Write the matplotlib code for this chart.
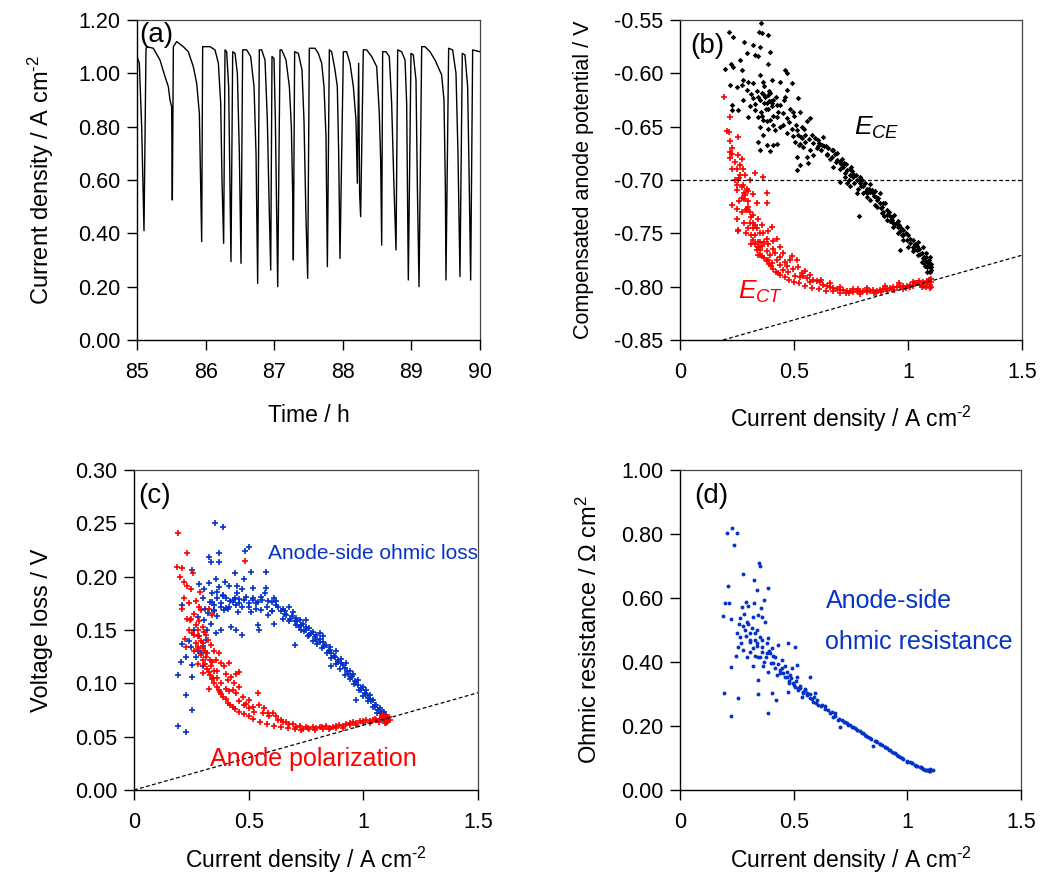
import matplotlib
matplotlib.use("Agg")
import matplotlib.pyplot as plt
from matplotlib.ticker import FormatStrFormatter

plt.rcParams['font.family'] = ['Liberation Sans', 'DejaVu Sans']
plt.rcParams['mathtext.fontset'] = 'custom'
plt.rcParams['mathtext.rm'] = 'Liberation Sans'
plt.rcParams['mathtext.it'] = 'Liberation Sans:italic'
plt.rcParams['mathtext.default'] = 'regular'

# ---------------- panel (a): current density vs time ----------------
time_h = [85.00, 85.034, 85.068, 85.102, 85.131, 85.141, 85.238, 85.335, 85.408, 85.457, 85.481, 85.505,
          85.515, 85.530, 85.578, 85.675, 85.748, 85.821, 85.870, 85.909, 85.943, 85.957, 86.064, 86.137,
          86.186, 86.220, 86.239, 86.263, 86.283, 86.307, 86.336, 86.356, 86.370, 86.395, 86.429, 86.463,
          86.492, 86.516, 86.540, 86.599, 86.657, 86.706, 86.735, 86.759, 86.783, 86.817, 86.866, 86.900,
          86.929, 86.949, 86.968, 86.997, 87.017, 87.051, 87.085, 87.109, 87.172, 87.221, 87.250, 87.269,
          87.279, 87.298, 87.352, 87.405, 87.434, 87.464, 87.488, 87.512, 87.595, 87.643, 87.692, 87.726,
          87.755, 87.775, 87.804, 87.838, 87.886, 87.920, 87.940, 87.959, 88.008, 88.056, 88.105, 88.154,
          88.192, 88.212, 88.231, 88.245, 88.260, 88.299, 88.348, 88.421, 88.494, 88.532, 88.552, 88.567,
          88.581, 88.630, 88.678, 88.712, 88.746, 88.776, 88.800, 88.858, 88.907, 88.931, 88.955, 88.994,
          89.028, 89.067, 89.087, 89.111, 89.150, 89.198, 89.271, 89.344, 89.407, 89.441, 89.475, 89.495,
          89.504, 89.543, 89.601, 89.650, 89.679, 89.708, 89.742, 89.781, 89.820, 89.844, 89.864, 89.893,
          90.000]
current_t = [1.063, 1.038, 0.80, 0.41, 1.09, 1.10, 1.094, 1.05, 0.988, 0.95, 0.90, 0.875,
             0.525, 1.10, 1.119, 1.10, 1.081, 1.025, 0.963, 0.85, 0.369, 1.10, 1.10, 1.088,
             1.038, 0.888, 0.60, 0.3625, 1.088, 1.081, 0.95, 0.575, 0.294, 1.081, 1.075, 1.0,
             0.70, 0.2875, 1.088, 1.088, 1.063, 0.95, 0.70, 0.2125, 1.088, 1.088, 1.05, 0.825,
             0.475, 0.2625, 1.063, 1.056, 0.825, 0.20, 1.088, 1.088, 1.05, 0.95, 0.80, 0.55,
             0.30, 1.081, 1.075, 1.013, 0.825, 0.45, 0.231, 1.094, 1.094, 1.075, 1.038, 0.95,
             0.763, 0.275, 1.088, 1.081, 1.013, 0.95, 0.70, 0.306, 1.081, 1.081, 1.038, 0.95,
             0.825, 0.588, 1.038, 0.55, 0.4625, 1.088, 1.088, 1.063, 1.025, 0.85, 0.675, 0.356,
             1.081, 1.081, 1.063, 0.888, 0.575, 0.3375, 1.088, 1.081, 1.05, 0.888, 0.225, 1.075,
             1.069, 0.975, 0.575, 0.20, 1.10, 1.10, 1.081, 1.05, 1.013, 0.994, 0.90, 0.575,
             0.225, 1.094, 1.088, 1.0, 0.70, 0.2375, 1.075, 1.069, 0.95, 0.575, 0.225, 1.088,
             1.081]

# ---------------- panel (b): compensated anode potentials ----------------
ece_j = [0.354, 0.348, 0.358, 0.387, 0.216, 0.234, 0.282, 0.322, 0.351, 0.292, 0.329, 0.344, 0.395, 0.387,
         0.222, 0.263, 0.234, 0.197, 0.270, 0.461, 0.471, 0.351, 0.278, 0.300, 0.322, 0.365, 0.402, 0.439,
         0.490, 0.468, 0.519, 0.461, 0.219, 0.249, 0.270, 0.292, 0.336, 0.365, 0.387, 0.409, 0.380, 0.402,
         0.424, 0.351, 0.322, 0.278, 0.307, 0.329, 0.226, 0.256, 0.226, 0.300, 0.344, 0.365, 0.395, 0.424,
         0.453, 0.482, 0.497, 0.526, 0.570, 0.556, 0.534, 0.512, 0.439, 0.417, 0.387, 0.351, 0.365, 0.468,
         0.497, 0.519, 0.548, 0.577, 0.592, 0.607, 0.621, 0.504, 0.526, 0.541, 0.570, 0.599, 0.344, 0.380,
         0.409, 0.424, 0.351, 0.395, 0.512, 0.556, 0.585, 0.643, 0.665, 0.687, 0.702, 0.716, 0.526, 0.563,
         0.512, 0.672, 0.731, 0.746, 0.760, 0.775, 0.789, 0.804, 0.819, 0.833, 0.848, 0.863, 0.877, 0.885,
         0.892, 0.906, 0.928, 0.943, 0.958, 0.965, 0.980, 0.994, 1.009, 1.023, 1.038, 1.053, 1.067, 1.082,
         1.094, 0.965, 0.775, 0.724, 0.753, 0.804, 0.833, 0.855, 0.885, 0.906, 0.921, 0.936, 0.958, 0.980,
         1.001, 1.023, 1.045, 1.060, 1.075, 0.702, 0.731, 0.789, 0.746, 0.819, 0.863, 1.090, 1.100, 1.100,
         1.085, 1.095, 1.070, 1.080, 1.050, 1.030, 1.010, 0.990, 0.970, 0.950, 0.930, 0.910, 0.890, 0.870,
         0.850, 0.830, 0.810, 0.790, 0.770, 0.750, 0.730, 0.710, 0.690, 0.670, 0.650, 0.630, 0.610, 0.372,
         0.390, 0.405, 0.360, 0.378, 0.396, 0.535, 0.548, 0.520,
         0.620, 0.640, 0.660, 0.680, 0.700, 0.720, 0.740, 0.760, 0.780, 0.800, 0.820, 0.840, 0.860, 0.880,
         0.900, 0.920, 0.940, 0.960, 0.980, 1.000, 1.020, 1.040, 1.060, 1.070, 1.080, 1.090, 1.100, 1.085,
         1.095, 1.075, 1.065, 1.045, 1.025, 0.995, 0.975, 0.955, 0.935, 0.915, 0.895, 0.875, 0.855, 0.835,
         0.815, 0.795, 0.765, 0.745, 0.725, 0.705, 0.685, 0.665, 0.645, 0.625, 0.605, 0.585, 0.565, 0.545,
         0.530, 0.510, 0.490, 0.470, 0.450, 0.430, 0.410, 0.400, 0.385, 0.370, 0.355, 0.340, 0.330, 0.310,
         0.370, 0.390, 0.420, 0.440, 0.455, 0.480, 0.500, 0.360, 0.380, 0.410, 0.786]
ece_v = [-0.553, -0.561, -0.562, -0.564, -0.561, -0.566, -0.571, -0.573, -0.575, -0.581, -0.583, -0.584, -0.580,
         -0.591, -0.591, -0.5875, -0.594, -0.596, -0.597, -0.597, -0.600, -0.602, -0.606, -0.608, -0.609, -0.608,
         -0.606, -0.608, -0.609, -0.616, -0.623, -0.622, -0.611, -0.6125, -0.611, -0.616, -0.617, -0.619, -0.620,
         -0.625, -0.628, -0.631, -0.630, -0.625, -0.623, -0.625, -0.631, -0.634, -0.630, -0.634, -0.634, -0.641,
         -0.641, -0.644, -0.644, -0.641, -0.6375, -0.633, -0.636, -0.636, -0.642, -0.645, -0.650, -0.653, -0.650,
         -0.653, -0.652, -0.650, -0.658, -0.656, -0.659, -0.658, -0.658, -0.658, -0.661, -0.6625, -0.667, -0.664,
         -0.666, -0.669, -0.672, -0.670, -0.664, -0.667, -0.667, -0.666, -0.672, -0.673, -0.678, -0.678, -0.677,
         -0.677, -0.678, -0.681, -0.683, -0.6875, -0.686, -0.684, -0.691, -0.6875, -0.691, -0.695, -0.697, -0.700,
         -0.703, -0.706, -0.708, -0.711, -0.7125, -0.719, -0.722, -0.725, -0.730, -0.733, -0.7375, -0.741, -0.744,
         -0.748, -0.752, -0.756, -0.759, -0.7625, -0.766, -0.769, -0.773, -0.777, -0.781, -0.766, -0.7125, -0.697,
         -0.692, -0.7125, -0.719, -0.723, -0.731, -0.7375, -0.734, -0.744, -0.750, -0.756, -0.7625, -0.767, -0.770,
         -0.777, -0.781, -0.702, -0.703, -0.697, -0.706, -0.716, -0.725, -0.775, -0.779, -0.784, -0.782, -0.786,
         -0.778, -0.772, -0.765, -0.760, -0.755, -0.750, -0.745, -0.740, -0.735, -0.728, -0.722, -0.717, -0.715,
         -0.708, -0.703, -0.700, -0.695, -0.688, -0.685, -0.680, -0.675, -0.672, -0.670, -0.668, -0.665, -0.622,
         -0.626, -0.628, -0.618, -0.633, -0.618, -0.661, -0.664, -0.667,
         -0.672, -0.668, -0.680, -0.676, -0.690, -0.684, -0.700, -0.694, -0.708, -0.700, -0.712, -0.709, -0.716,
         -0.726, -0.722, -0.738, -0.733, -0.742, -0.747, -0.752, -0.756, -0.762, -0.768, -0.772, -0.768, -0.778,
         -0.782, -0.786, -0.772, -0.776, -0.763, -0.758, -0.765, -0.744, -0.752, -0.738, -0.740, -0.730, -0.734,
         -0.712, -0.710, -0.704, -0.710, -0.706, -0.703, -0.690, -0.693, -0.685, -0.683, -0.672, -0.676, -0.660,
         -0.668, -0.665, -0.662, -0.652, -0.660, -0.648, -0.652, -0.642, -0.648, -0.636, -0.640, -0.626, -0.633,
         -0.628, -0.636, -0.622, -0.629, -0.619, -0.612, -0.617, -0.622, -0.630, -0.625, -0.646, -0.640, -0.640,
         -0.645, -0.648, -0.734]

ect_j = [0.193, 0.220, 0.205, 0.216, 0.219, 0.226, 0.221, 0.226, 0.219, 0.255, 0.256, 0.270, 0.263, 0.278,
         0.263, 0.256, 0.285, 0.307, 0.329, 0.365, 0.248, 0.278, 0.292, 0.270, 0.226, 0.249, 0.285, 0.300,
         0.322, 0.336, 0.292, 0.307, 0.380, 0.380, 0.249, 0.256, 0.322, 0.344, 0.336, 0.358, 0.322, 0.307,
         0.365, 0.387, 0.402, 0.380, 0.344, 0.358, 0.387, 0.409, 0.424, 0.439, 0.380, 0.351, 0.336, 0.395,
         0.417, 0.453, 0.424, 0.402, 0.387, 0.439, 0.461, 0.482, 0.490, 0.512, 0.453, 0.475, 0.497, 0.519,
         0.534, 0.548, 0.504, 0.526, 0.556, 0.570, 0.585, 0.599, 0.614, 0.628, 0.643, 0.658, 0.672, 0.687,
         0.702, 0.716, 0.731, 0.746, 0.760, 0.775, 0.789, 0.804, 0.819, 0.833, 0.848, 0.863, 0.877, 0.892,
         0.906, 0.921, 0.936, 0.950, 0.965, 0.980, 0.994, 1.009, 1.023, 1.038, 1.053, 1.067, 1.082, 1.095,
         1.100, 0.620, 0.660, 0.700, 0.740, 0.780, 0.820, 0.860, 0.900, 0.940, 0.980, 1.020, 1.060, 1.090,
         1.080, 1.100, 0.570, 0.540, 0.470, 0.440, 0.410, 0.370, 0.350, 0.330, 0.310, 0.300, 0.280, 0.270,
         0.260, 0.250, 0.240,
         0.300, 0.310, 0.320, 0.330, 0.340, 0.350, 0.360, 0.370, 0.380, 0.390, 0.400, 0.410, 0.420, 0.430,
         0.440, 0.460, 0.480, 0.500, 0.520, 0.550, 0.580, 0.610, 0.640, 0.670, 0.700, 0.730, 0.760, 0.790,
         0.820, 0.850, 0.880, 0.910, 0.930, 0.960, 0.990, 1.010, 1.030, 1.050, 1.070, 1.085, 1.100, 1.095,
         0.280, 0.270, 0.290, 0.310, 0.260, 0.280, 0.250, 0.290, 0.330, 0.350, 0.300, 0.320, 0.230, 0.240,
         0.340, 0.256, 0.343]
ect_v = [-0.622, -0.641, -0.654, -0.655, -0.663, -0.670, -0.674, -0.676, -0.679, -0.660, -0.677, -0.680, -0.686,
         -0.690, -0.695, -0.700, -0.695, -0.700, -0.693, -0.697, -0.709, -0.705, -0.708, -0.717, -0.723, -0.727,
         -0.714, -0.720, -0.713, -0.722, -0.727, -0.730, -0.712, -0.722, -0.737, -0.748, -0.733, -0.737, -0.745,
         -0.742, -0.745, -0.740, -0.750, -0.748, -0.744, -0.755, -0.758, -0.762, -0.760, -0.757, -0.755, -0.763,
         -0.767, -0.770, -0.766, -0.770, -0.768, -0.768, -0.775, -0.778, -0.775, -0.780, -0.777, -0.775, -0.771,
         -0.775, -0.784, -0.786, -0.783, -0.782, -0.787, -0.785, -0.790, -0.791, -0.792, -0.789, -0.794, -0.795,
         -0.796, -0.798, -0.799, -0.800, -0.801, -0.802, -0.803, -0.803, -0.804, -0.804, -0.805, -0.804, -0.805,
         -0.804, -0.805, -0.804, -0.803, -0.804, -0.803, -0.802, -0.802, -0.801, -0.800, -0.800, -0.800, -0.799,
         -0.799, -0.798, -0.799, -0.797, -0.798, -0.796, -0.797, -0.798, -0.796, -0.794, -0.797, -0.800, -0.806,
         -0.802, -0.801, -0.806, -0.799, -0.803, -0.802, -0.796, -0.800, -0.794, -0.800, -0.800, -0.796, -0.790,
         -0.781, -0.772, -0.765, -0.758, -0.750, -0.742, -0.735, -0.725, -0.718, -0.707, -0.698, -0.690, -0.683,
         -0.745, -0.752, -0.756, -0.760, -0.763, -0.766, -0.771, -0.773, -0.776, -0.779, -0.781, -0.783, -0.786,
         -0.787, -0.789, -0.791, -0.794, -0.796, -0.797, -0.799, -0.801, -0.802, -0.804, -0.804, -0.806, -0.806,
         -0.802, -0.807, -0.803, -0.806, -0.805, -0.804, -0.802, -0.797, -0.801, -0.800, -0.797, -0.795, -0.799,
         -0.795, -0.793, -0.801, -0.740, -0.730, -0.750, -0.760, -0.720, -0.712, -0.705, -0.728, -0.752, -0.758,
         -0.710, -0.740, -0.690, -0.700, -0.770, -0.747, -0.7625]

# reference (dashed) lines
b_hline_v = -0.70
b_diag_j = [0.189, 1.5]
b_diag_v = [-0.850, -0.7705]

# ---------------- panel (c): voltage losses ----------------
ohm_j = [0.353, 0.389, 0.503, 0.485, 0.372, 0.325, 0.335, 0.372, 0.252, 0.576, 0.510, 0.442, 0.357, 0.481,
         0.398, 0.284, 0.325, 0.415, 0.448, 0.520, 0.576, 0.306, 0.364, 0.386, 0.401, 0.430, 0.459, 0.488,
         0.554, 0.612, 0.620, 0.583, 0.532, 0.503, 0.445, 0.415, 0.379, 0.350, 0.211, 0.350, 0.394, 0.452,
         0.510, 0.554, 0.649, 0.678, 0.692, 0.663, 0.707, 0.722, 0.678, 0.736, 0.751, 0.765, 0.780, 0.794,
         0.809, 0.824, 0.838, 0.853, 0.860, 0.875, 0.889, 0.904, 0.918, 0.933, 0.948, 0.962, 0.977, 0.991,
         1.006, 1.020, 1.035, 1.050, 1.064, 1.079, 1.093, 1.101, 1.086, 0.794, 0.824, 0.853, 0.882, 0.904,
         0.926, 0.940, 0.955, 0.977, 0.999, 1.013, 1.028, 1.042, 1.057, 1.071, 1.086, 1.093, 0.700, 0.969,
         0.860, 0.765, 0.729, 0.707, 0.809, 0.751, 0.211, 0.226, 0.204, 0.255, 0.291, 0.248, 0.194, 0.252,
         0.226, 0.255, 0.194, 0.226, 0.299, 0.277, 0.357, 0.379, 0.335, 0.306, 0.321, 0.423, 0.445, 0.471,
         0.547, 0.539, 0.612, 0.583, 0.284, 0.313, 0.364, 0.340, 0.410, 0.430, 0.470, 0.520, 0.600, 0.650,
         0.63, 0.66, 0.69, 0.71, 0.73, 0.75, 0.77, 0.79, 0.81, 0.83, 0.85, 0.87, 0.89, 0.91, 0.93, 0.95,
         0.97, 0.99, 1.01, 1.03, 1.05, 1.07, 1.08, 1.09, 1.10, 1.095, 1.105, 1.08, 1.06, 1.04, 1.02, 1.00,
         0.98, 0.96, 0.94, 0.92, 0.90, 0.88, 0.86, 0.84, 0.82, 0.80, 0.78, 0.76, 0.74, 0.72, 0.70, 0.68,
         0.66, 0.64, 0.62, 0.60, 0.58, 0.56, 0.54, 0.52, 0.50, 0.48, 0.46, 0.44, 0.42, 0.40, 0.38, 0.36,
         0.35, 0.33, 0.31, 0.30, 0.34, 0.37, 0.39, 0.45, 0.47, 0.53, 0.57, 0.60, 0.28, 0.26, 0.24, 0.27,
         0.30, 0.32]
ohm_v = [0.2506, 0.247, 0.228, 0.224, 0.222, 0.218, 0.214, 0.214, 0.206, 0.204, 0.204, 0.203, 0.198, 0.198,
         0.195, 0.193, 0.194, 0.191, 0.191, 0.189, 0.189, 0.188, 0.186, 0.183, 0.180, 0.178, 0.179, 0.181,
         0.181, 0.180, 0.177, 0.177, 0.175, 0.175, 0.173, 0.172, 0.172, 0.173, 0.173, 0.169, 0.169, 0.167,
         0.167, 0.169, 0.170, 0.172, 0.167, 0.164, 0.161, 0.159, 0.158, 0.156, 0.153, 0.152, 0.148, 0.145,
         0.142, 0.139, 0.136, 0.131, 0.128, 0.125, 0.122, 0.119, 0.114, 0.109, 0.106, 0.102, 0.098, 0.094,
         0.091, 0.086, 0.083, 0.078, 0.075, 0.072, 0.069, 0.066, 0.067, 0.141, 0.144, 0.134, 0.130, 0.123,
         0.119, 0.112, 0.109, 0.103, 0.097, 0.094, 0.089, 0.084, 0.080, 0.077, 0.073, 0.070, 0.136, 0.084,
         0.116, 0.145, 0.150, 0.155, 0.147, 0.159, 0.137, 0.125, 0.120, 0.117, 0.128, 0.134, 0.108, 0.106,
         0.089, 0.075, 0.060, 0.054, 0.116, 0.130, 0.147, 0.150, 0.156, 0.159, 0.166, 0.153, 0.150, 0.145,
         0.150, 0.155, 0.156, 0.164, 0.144, 0.141, 0.163, 0.176, 0.170, 0.176, 0.172, 0.178, 0.168, 0.160,
         0.172, 0.168, 0.163, 0.158, 0.155, 0.150, 0.147, 0.143, 0.139, 0.135, 0.130, 0.126, 0.120, 0.117,
         0.112, 0.107, 0.101, 0.096, 0.090, 0.085, 0.080, 0.075, 0.071, 0.073, 0.069, 0.066, 0.064, 0.068,
         0.072, 0.078, 0.083, 0.088, 0.094, 0.099, 0.104, 0.108, 0.113, 0.118, 0.124, 0.128, 0.133, 0.137,
         0.140, 0.144, 0.149, 0.153, 0.158, 0.160, 0.165, 0.168, 0.173, 0.176, 0.172, 0.178, 0.176, 0.180,
         0.172, 0.178, 0.175, 0.180, 0.177, 0.171, 0.175, 0.180, 0.168, 0.176, 0.170, 0.180, 0.185, 0.190,
         0.182, 0.185, 0.188, 0.170, 0.185, 0.168, 0.162, 0.150, 0.140, 0.125, 0.135, 0.150]

pol_j = [0.194, 0.229, 0.189, 0.208, 0.258, 0.485, 0.219, 0.229, 0.248, 0.287, 0.270, 0.284, 0.291, 0.328,
         0.342, 0.243, 0.284, 0.299, 0.306, 0.255, 0.277, 0.313, 0.321, 0.335, 0.223, 0.226, 0.277, 0.299,
         0.350, 0.372, 0.357, 0.335, 0.328, 0.379, 0.394, 0.415, 0.401, 0.423, 0.445, 0.459, 0.408, 0.437,
         0.459, 0.328, 0.375, 0.415, 0.474, 0.503, 0.539, 0.488, 0.517, 0.547, 0.569, 0.583, 0.605, 0.620,
         0.641, 0.663, 0.692, 0.722, 0.751, 0.780, 0.809, 0.838, 0.867, 0.896, 0.926, 0.955, 0.984, 1.013,
         1.042, 1.071, 1.101, 1.115, 1.086, 1.057, 1.028, 0.999, 0.969, 0.940, 0.911, 0.882, 0.853, 0.824,
         0.794, 0.765, 0.736, 0.707, 0.678, 0.649, 0.627, 0.590, 0.561, 0.525, 0.503, 0.481, 0.459, 0.445,
         0.430, 0.300, 0.315, 0.340, 0.360, 0.280, 0.262, 0.320, 0.345, 1.095, 1.105, 1.080,
         0.26, 0.27, 0.28, 0.29, 0.30, 0.31, 0.32, 0.33, 0.34, 0.35, 0.36, 0.37, 0.38, 0.39, 0.40, 0.41,
         0.42, 0.43, 0.44, 0.46, 0.48, 0.50, 0.52, 0.55, 0.58, 0.61, 0.64, 0.67, 0.70, 0.73, 0.76, 0.79,
         0.82, 0.85, 0.88, 0.91, 0.94, 0.97, 1.00, 1.03, 1.05, 1.07, 1.09, 1.10, 1.11, 0.25, 0.24, 0.27,
         0.29, 0.31, 0.33, 0.35, 0.30, 0.28, 0.36, 0.38, 0.40, 0.22, 0.21, 0.23, 0.20, 0.24, 0.26]
pol_v = [0.241, 0.222, 0.209, 0.208, 0.203, 0.215, 0.195, 0.191, 0.188, 0.186, 0.177, 0.172, 0.169, 0.170,
         0.164, 0.159, 0.158, 0.153, 0.148, 0.147, 0.144, 0.145, 0.141, 0.136, 0.142, 0.134, 0.134, 0.133,
         0.130, 0.128, 0.122, 0.116, 0.111, 0.119, 0.116, 0.119, 0.109, 0.106, 0.109, 0.111, 0.103, 0.100,
         0.097, 0.095, 0.092, 0.093, 0.087, 0.084, 0.091, 0.081, 0.078, 0.080, 0.077, 0.072, 0.072, 0.069,
         0.066, 0.064, 0.062, 0.060, 0.059, 0.059, 0.059, 0.060, 0.059, 0.061, 0.062, 0.064, 0.065, 0.066,
         0.066, 0.067, 0.066, 0.066, 0.069, 0.066, 0.065, 0.063, 0.063, 0.061, 0.060, 0.058, 0.058, 0.057,
         0.058, 0.057, 0.057, 0.059, 0.062, 0.064, 0.066, 0.069, 0.072, 0.073, 0.077, 0.080, 0.083, 0.091,
         0.094, 0.138, 0.125, 0.120, 0.112, 0.150, 0.165, 0.128, 0.105, 0.063, 0.068, 0.070,
         0.145, 0.138, 0.132, 0.127, 0.122, 0.118, 0.113, 0.108, 0.104, 0.100, 0.097, 0.094, 0.090, 0.087,
         0.085, 0.082, 0.080, 0.078, 0.076, 0.073, 0.071, 0.069, 0.067, 0.064, 0.062, 0.060, 0.059, 0.058,
         0.057, 0.056, 0.058, 0.056, 0.059, 0.057, 0.060, 0.058, 0.063, 0.061, 0.065, 0.063, 0.067, 0.064,
         0.069, 0.063, 0.068, 0.160, 0.150, 0.155, 0.140, 0.130, 0.122, 0.112, 0.110, 0.118, 0.105, 0.100,
         0.095, 0.180, 0.170, 0.160, 0.200, 0.175, 0.130]

c_diag_j = [0.0, 1.5]
c_diag_v = [0.0, 0.0912]

# ---------------- panel (d): anode-side ohmic resistance ----------------
res_j = [0.208, 0.227, 0.252, 0.239, 0.349, 0.352, 0.279, 0.327, 0.210, 0.386, 0.340, 0.370, 0.289, 0.198,
         0.217, 0.327, 0.271, 0.298, 0.356, 0.191, 0.224, 0.264, 0.345, 0.359, 0.374, 0.293, 0.279, 0.315,
         0.330, 0.352, 0.264, 0.308, 0.389, 0.257, 0.279, 0.323, 0.381, 0.403, 0.433, 0.477, 0.506, 0.246,
         0.293, 0.345, 0.396, 0.418, 0.447, 0.223, 0.323, 0.367, 0.462, 0.491, 0.513, 0.389, 0.425, 0.455,
         0.484, 0.513, 0.345, 0.481, 0.506, 0.528, 0.550, 0.572, 0.557, 0.594, 0.194, 0.257, 0.345, 0.403,
         0.422, 0.477, 0.535, 0.572, 0.601, 0.608, 0.638, 0.223, 0.386, 0.667, 0.675, 0.696, 0.704, 0.726,
         0.748, 0.770, 0.792, 0.814, 0.836, 0.850, 0.865, 0.887, 0.909, 0.931, 0.953, 0.975, 0.997, 1.019,
         1.041, 1.063, 1.085, 1.114, 1.100, 1.078, 1.056, 1.034, 1.012, 0.968, 0.946, 0.924, 0.902, 0.880,
         0.858, 0.828, 0.806, 0.777, 0.755, 0.733, 0.711, 0.682, 0.652, 0.623, 0.587, 0.543, 0.521, 0.499,
         0.469, 0.440, 0.411, 0.381, 0.359, 0.337, 0.308, 0.286,
         0.62, 0.64, 0.66, 0.68, 0.70, 0.72, 0.74, 0.76, 0.78, 0.80, 0.82, 0.84, 0.86, 0.88, 0.90, 0.92,
         0.94, 0.96, 0.98, 1.00, 1.02, 1.04, 1.06, 1.07, 1.08, 1.09, 1.10, 1.105, 1.095, 0.60, 0.58, 0.56,
         0.54, 0.52, 0.50, 0.48, 0.46, 0.44, 0.42, 0.40, 0.38, 0.36, 0.34, 0.33, 0.31, 0.35, 0.37, 0.39,
         0.41, 0.43, 0.45, 0.47, 0.49, 0.51, 0.53, 0.55, 0.57, 0.59, 0.30, 0.32, 0.29, 0.27, 0.31, 0.26,
         0.28, 0.34, 0.36, 0.33, 0.25]
res_r = [0.804, 0.818, 0.802, 0.766, 0.709, 0.700, 0.675, 0.656, 0.638, 0.632, 0.625, 0.594, 0.589, 0.584,
         0.584, 0.584, 0.571, 0.575, 0.568, 0.545, 0.535, 0.536, 0.547, 0.542, 0.526, 0.526, 0.511, 0.505,
         0.490, 0.479, 0.479, 0.469, 0.474, 0.448, 0.438, 0.443, 0.459, 0.443, 0.453, 0.459, 0.448, 0.419,
         0.415, 0.417, 0.427, 0.417, 0.406, 0.383, 0.386, 0.386, 0.386, 0.380, 0.391, 0.370, 0.360, 0.365,
         0.360, 0.354, 0.344, 0.334, 0.323, 0.318, 0.313, 0.354, 0.302, 0.302, 0.304, 0.287, 0.299, 0.302,
         0.281, 0.307, 0.292, 0.287, 0.281, 0.266, 0.261, 0.231, 0.242, 0.245, 0.229, 0.219, 0.198, 0.214,
         0.203, 0.193, 0.183, 0.172, 0.162, 0.136, 0.151, 0.141, 0.130, 0.120, 0.110, 0.099, 0.089, 0.084,
         0.075, 0.068, 0.063, 0.063, 0.065, 0.061, 0.073, 0.078, 0.086, 0.104, 0.115, 0.125, 0.134, 0.144,
         0.154, 0.167, 0.177, 0.188, 0.198, 0.209, 0.219, 0.240, 0.250, 0.266, 0.276, 0.302, 0.313, 0.334,
         0.354, 0.375, 0.396, 0.427, 0.448, 0.459, 0.490, 0.500,
         0.262, 0.252, 0.240, 0.232, 0.222, 0.212, 0.204, 0.196, 0.186, 0.178, 0.170, 0.160, 0.152, 0.144,
         0.134, 0.126, 0.117, 0.107, 0.098, 0.090, 0.083, 0.076, 0.071, 0.066, 0.064, 0.062, 0.060, 0.062,
         0.058, 0.272, 0.285, 0.296, 0.306, 0.318, 0.328, 0.342, 0.352, 0.365, 0.382, 0.398, 0.415, 0.432,
         0.450, 0.470, 0.462, 0.415, 0.400, 0.435, 0.420, 0.395, 0.380, 0.370, 0.350, 0.340, 0.325, 0.315,
         0.300, 0.290, 0.520, 0.540, 0.480, 0.460, 0.430, 0.520, 0.550, 0.500, 0.470, 0.420, 0.490]

# ---------------- styling ----------------
RED = '#ff0000'
BLUE = '#0533c8'
TICK_FS = 15.5
XLAB_FS = 16.5
YLAB_FS = 17

W, H = 1047, 882
fig = plt.figure(figsize=(W / 100, H / 100), dpi=100)


def make_axes(x0, y0, x1, y1):
    ax = fig.add_axes([x0 / W, 1 - y1 / H, (x1 - x0) / W, (y1 - y0) / H])
    ax.tick_params(direction='out', length=7, width=1, labelsize=TICK_FS)
    ax.tick_params(axis='x', pad=9)
    ax.tick_params(axis='y', pad=5)
    for s in ['top', 'right']:
        ax.spines[s].set_color('#444444')
        ax.spines[s].set_linewidth(0.9)
    for s in ['left', 'bottom']:
        ax.spines[s].set_linewidth(1.0)
    return ax


# (a)
ax = make_axes(137, 20, 480, 340)
ax.plot(time_h, current_t, color='black', lw=1.0)
ax.set_xlim(85, 90)
ax.set_ylim(0, 1.2)
ax.set_xticks([85, 86, 87, 88, 89, 90])
ax.set_yticks([0, 0.2, 0.4, 0.6, 0.8, 1.0, 1.2])
ax.yaxis.set_major_formatter(FormatStrFormatter('%.2f'))
ax.set_xlabel('Time / h', fontsize=XLAB_FS, labelpad=15)
ax.set_ylabel('Current density / A cm$^{\\text{-2}}$', fontsize=YLAB_FS, labelpad=16)
ax.text(0.008, 0.995, '(a)', transform=ax.transAxes, fontsize=20, va='top', ha='left')

# (b)
ax = make_axes(680, 20, 1022, 340)
ax.plot(ece_j, ece_v, linestyle='none', marker='D', ms=2.8, color='black', mew=0)
ax.plot(ect_j, ect_v, linestyle='none', marker='+', ms=5, color=RED, mew=1.2)
ax.axhline(b_hline_v, color='black', lw=0.9, ls=(0, (3, 2)))
ax.plot(b_diag_j, b_diag_v, color='black', lw=0.9, ls=(0, (3, 2)))
ax.set_xlim(0, 1.5)
ax.set_ylim(-0.85, -0.55)
ax.set_xticks([0, 0.5, 1.0, 1.5])
ax.set_xticklabels(['0', '0.5', '1', '1.5'])
ax.set_yticks([-0.85, -0.80, -0.75, -0.70, -0.65, -0.60, -0.55])
ax.yaxis.set_major_formatter(FormatStrFormatter('%.2f'))
ax.set_xlabel('Current density / A cm$^{\\text{-2}}$', fontsize=XLAB_FS, labelpad=15)
ax.set_ylabel('Compensated anode potential / V', fontsize=15.5, labelpad=14)
ax.text(0.03, 0.96, '(b)', transform=ax.transAxes, fontsize=20, va='top', ha='left')
ax.text(0.765, -0.651, '$\\mathit{E}_{\\mathit{CE}}$', fontsize=19, color='black', va='center', ha='left')
ax.text(0.255, -0.805, '$\\mathit{E}_{\\mathit{CT}}$', fontsize=19, color=RED, va='center', ha='left')

# (c)
ax = make_axes(134, 470, 478, 790)
ax.plot(ohm_j, ohm_v, linestyle='none', marker='+', ms=5, color=BLUE, mew=1.2)
ax.plot(pol_j, pol_v, linestyle='none', marker='+', ms=5, color=RED, mew=1.2)
ax.plot(c_diag_j, c_diag_v, color='black', lw=0.9, ls=(0, (3, 2)))
ax.set_xlim(0, 1.5)
ax.set_ylim(0, 0.30)
ax.set_xticks([0, 0.5, 1.0, 1.5])
ax.set_xticklabels(['0', '0.5', '1', '1.5'])
ax.set_yticks([0, 0.05, 0.10, 0.15, 0.20, 0.25, 0.30])
ax.yaxis.set_major_formatter(FormatStrFormatter('%.2f'))
ax.set_xlabel('Current density / A cm$^{\\text{-2}}$', fontsize=XLAB_FS, labelpad=8)
ax.set_ylabel('Voltage loss / V', fontsize=YLAB_FS, labelpad=16)
ax.text(0.012, 0.96, '(c)', transform=ax.transAxes, fontsize=20, va='top', ha='left')
ax.text(0.585, 0.222, 'Anode-side ohmic loss', fontsize=15, color=BLUE, va='center', ha='left')
ax.text(0.33, 0.029, 'Anode polarization', fontsize=18, color=RED, va='center', ha='left')

# (d)
ax = make_axes(680, 470, 1021, 790)
ax.plot(res_j, res_r, linestyle='none', marker='o', ms=2.8, color=BLUE, mew=0)
ax.set_xlim(0, 1.5)
ax.set_ylim(0, 1.0)
ax.set_xticks([0, 0.5, 1.0, 1.5])
ax.set_xticklabels(['0', '0.5', '1', '1.5'])
ax.set_yticks([0, 0.2, 0.4, 0.6, 0.8, 1.0])
ax.yaxis.set_major_formatter(FormatStrFormatter('%.2f'))
ax.set_xlabel('Current density / A cm$^{\\text{-2}}$', fontsize=XLAB_FS, labelpad=8)
ax.set_ylabel('Ohmic resistance / \u03a9 cm$^{2}$', fontsize=YLAB_FS, labelpad=14)
ax.text(0.043, 0.96, '(d)', transform=ax.transAxes, fontsize=20, va='top', ha='left')
ax.text(0.64, 0.592, 'Anode-side', fontsize=18, color=BLUE, va='center', ha='left')
ax.text(0.64, 0.462, 'ohmic resistance', fontsize=18, color=BLUE, va='center', ha='left')

fig.savefig('out.png', dpi=100)
